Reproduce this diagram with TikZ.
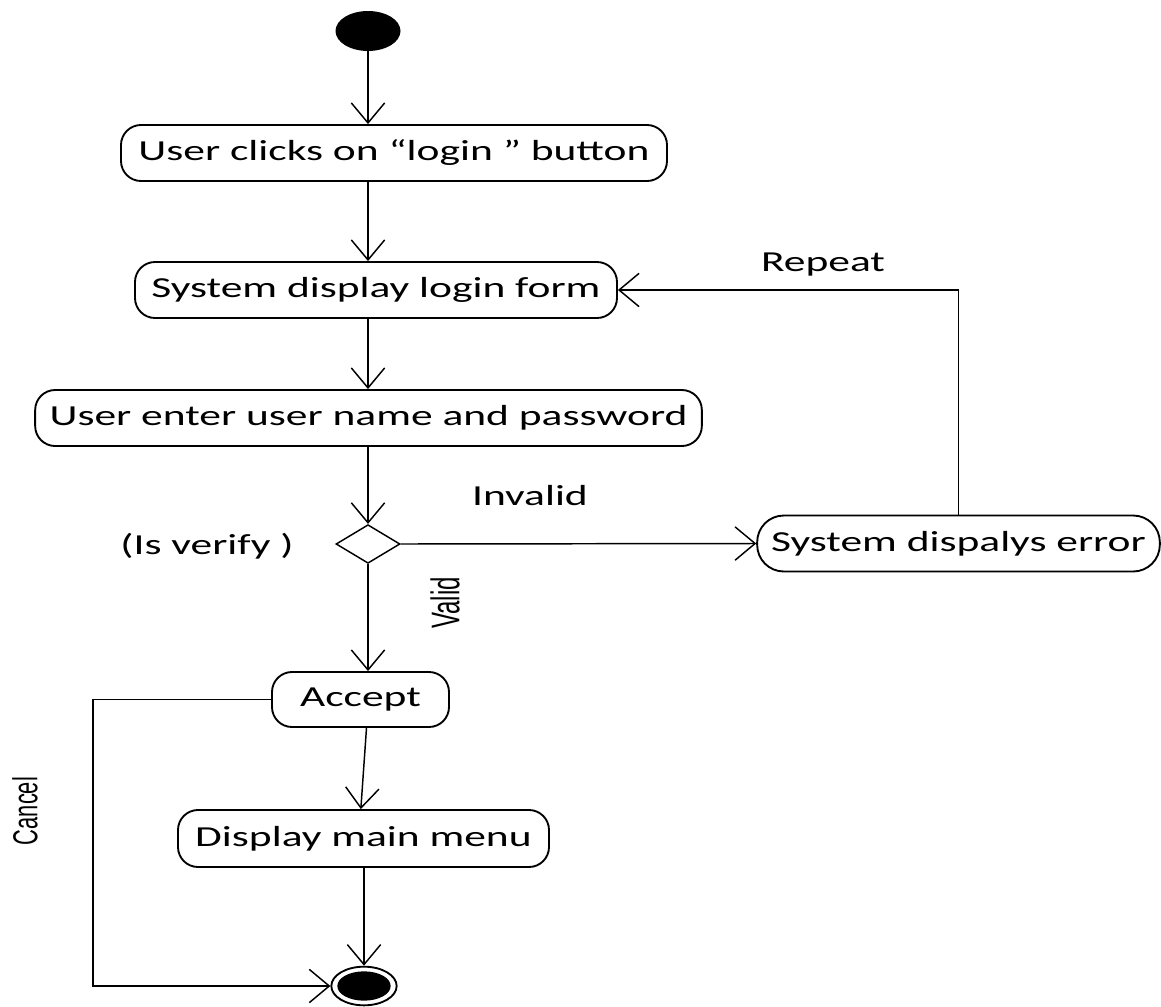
\documentclass[tikz,border=0pt]{standalone}
\usepackage{fontspec}
\setmainfont[FakeStretch=1.5]{Carlito}
\newfontfamily\narrowfont{Liberation Sans}
\usetikzlibrary{arrows.meta,shapes.geometric,calc}

\begin{document}
\begin{tikzpicture}[x=0.75pt,y=-0.75pt,
  every node/.style={font=\fontsize{21.75pt}{26pt}\selectfont},
  act/.style={draw,line width=1.4pt,rounded corners=15pt,minimum height=42pt,inner sep=0pt},
  errbox/.style={act,rounded corners=20pt},
  flow/.style={line width=1.1pt,-{Straight Barb[length=15pt,width=25pt,line width=1.1pt]}},
  lbl/.style={inner sep=0pt},
  sidelbl/.style={inner sep=0pt,rotate=90}
]
\useasboundingbox (0,0) rectangle (1161,1007);

% initial and final states
\node[ellipse,fill=black,minimum width=48.75pt,minimum height=30pt,inner sep=0pt] (start) at (368,31) {};
\node[ellipse,draw,line width=1.4pt,minimum width=49pt,minimum height=29pt,inner sep=0pt] (endo) at (364,986) {};
\node[ellipse,fill=black,minimum width=40pt,minimum height=22pt,inner sep=0pt] (endi) at (364,986) {};

% activities
\node[act,minimum width=409.5pt] (click) at (394,153) {User clicks on “login ” button};
\node[act,minimum width=361.5pt] (form) at (376,290) {System display login form};
\node[act,minimum width=500pt] (enter) at (368.5,418) {User enter user name and password};
\node[diamond,draw,line width=1.1pt,minimum width=48pt,minimum height=29pt,inner sep=0pt] (dec) at (368,544) {};
\node[errbox,minimum width=302pt] (err) at (958.5,543.5) {System dispalys error};
\node[act,minimum width=132.75pt,minimum height=41.25pt] (accept) at (360.5,699.5) {Accept};
\node[act,minimum width=278.25pt,minimum height=42.75pt] (menu) at (363.5,838.5) {Display main menu};

% labels
\node[lbl] (repeat) at (823,265) {Repeat};
\node[lbl] (invalid) at (530,496) {Invalid};
\node[lbl] (verify) at (207,546) {(Is verify )};
\node[sidelbl] (valid) at (445,603) {\scalebox{0.6}[1]{\narrowfont\fontsize{30pt}{30pt}\selectfont Valid}};
\node[sidelbl] (cancel) at (25,811) {\scalebox{0.63}[1]{\narrowfont\fontsize{26pt}{26pt}\selectfont Cancel}};

\coordinate (cancelx) at (93,0);

% transitions
\draw[flow] (start.south) -- (start.south |- click.north);
\draw[flow] (click.south -| start) -- (form.north -| start);
\draw[flow] (form.south -| start) -- (enter.north -| start);
\draw[flow] (enter.south -| dec) -- (dec.north);
\draw[flow] (dec.east) -- (err.west);
\draw[flow] (err.north) |- (form.east);
\draw[flow] (dec.south) -- (dec.south |- accept.north);
\draw[flow] ([xshift=4.5pt]accept.south) -- ([xshift=-2pt]menu.north);
\draw[flow] (menu.south -| endo) -- (endo.north);
\draw[flow] (accept.west) -- (accept.west -| cancelx) |- (endo.west);
\end{tikzpicture}
\end{document}
